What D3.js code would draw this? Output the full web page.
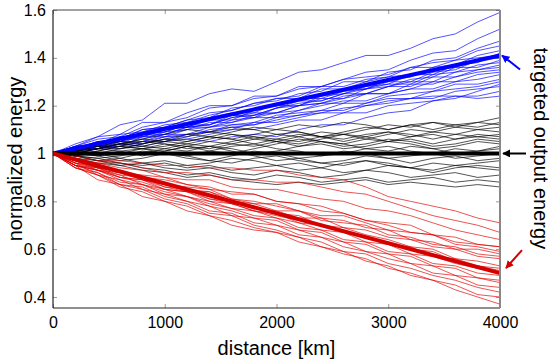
<!DOCTYPE html>
<html>
<head>
<meta charset="utf-8">
<script src="https://cdn.jsdelivr.net/npm/d3@7"></script>
<style>
  body { margin: 0; background: #fff; }
  svg text { font-family: "Liberation Sans", Arial, sans-serif; fill: #000; }
</style>
</head>
<body>
<div id="chart"></div>
<script>
// distance grid of the simulated spans (km)
var distance = [0, 200, 400, 600, 800, 1000, 1200, 1400, 1600, 1800, 2000,
                2200, 2400, 2600, 2800, 3000, 3200, 3400, 3600, 3800, 4000];

// blue runs (energy grows)
var blueRuns = [
    [1, 1.04, 1.07, 1.12, 1.14, 1.21, 1.21, 1.25, 1.27, 1.26, 1.30, 1.34, 1.35, 1.38, 1.41, 1.41, 1.44, 1.48, 1.50, 1.55, 1.59],
    [1, 1.03, 1.07, 1.08, 1.13, 1.13, 1.17, 1.20, 1.20, 1.24, 1.24, 1.28, 1.28, 1.31, 1.34, 1.35, 1.39, 1.42, 1.43, 1.48, 1.52],
    [1, 1.03, 1.04, 1.08, 1.09, 1.12, 1.13, 1.16, 1.18, 1.21, 1.22, 1.25, 1.26, 1.30, 1.30, 1.34, 1.35, 1.39, 1.40, 1.44, 1.47],
    [1, 1.02, 1.05, 1.06, 1.10, 1.11, 1.14, 1.15, 1.19, 1.20, 1.23, 1.24, 1.28, 1.28, 1.31, 1.32, 1.36, 1.38, 1.39, 1.43, 1.45],
    [1, 1.03, 1.04, 1.07, 1.08, 1.11, 1.11, 1.15, 1.16, 1.19, 1.20, 1.23, 1.24, 1.27, 1.27, 1.31, 1.32, 1.36, 1.37, 1.41, 1.43],
    [1, 1.01, 1.04, 1.05, 1.08, 1.09, 1.12, 1.14, 1.14, 1.18, 1.20, 1.20, 1.24, 1.25, 1.28, 1.29, 1.33, 1.33, 1.37, 1.38, 1.42],
    [1, 1.02, 1.05, 1.05, 1.09, 1.11, 1.11, 1.15, 1.17, 1.17, 1.21, 1.23, 1.23, 1.26, 1.27, 1.30, 1.30, 1.34, 1.35, 1.39, 1.40],
    [1, 1.03, 1.03, 1.07, 1.07, 1.10, 1.11, 1.12, 1.15, 1.16, 1.19, 1.21, 1.22, 1.25, 1.27, 1.28, 1.31, 1.32, 1.36, 1.36, 1.39],
    [1, 1.01, 1.04, 1.04, 1.08, 1.09, 1.12, 1.12, 1.16, 1.16, 1.19, 1.20, 1.23, 1.23, 1.27, 1.29, 1.29, 1.33, 1.34, 1.37, 1.38],
    [1, 1.02, 1.02, 1.06, 1.07, 1.10, 1.11, 1.14, 1.16, 1.15, 1.19, 1.22, 1.22, 1.25, 1.25, 1.28, 1.30, 1.30, 1.34, 1.35, 1.37],
    [1, 1.01, 1.04, 1.05, 1.08, 1.08, 1.11, 1.12, 1.15, 1.17, 1.17, 1.20, 1.21, 1.24, 1.25, 1.28, 1.28, 1.32, 1.32, 1.35, 1.36],
    [1, 1.02, 1.03, 1.06, 1.06, 1.09, 1.10, 1.13, 1.13, 1.16, 1.17, 1.20, 1.21, 1.23, 1.25, 1.25, 1.29, 1.29, 1.32, 1.34, 1.35],
    [1, 1.01, 1.03, 1.03, 1.07, 1.08, 1.11, 1.11, 1.14, 1.15, 1.17, 1.18, 1.21, 1.21, 1.25, 1.25, 1.27, 1.30, 1.30, 1.33, 1.34],
    [1, 1.02, 1.02, 1.05, 1.07, 1.07, 1.10, 1.11, 1.13, 1.15, 1.15, 1.18, 1.20, 1.22, 1.22, 1.25, 1.27, 1.27, 1.30, 1.31, 1.33],
    [1, 1.01, 1.03, 1.05, 1.05, 1.08, 1.08, 1.11, 1.12, 1.13, 1.16, 1.17, 1.18, 1.21, 1.21, 1.24, 1.25, 1.26, 1.29, 1.29, 1.31],
    [1, 1.00, 1.02, 1.04, 1.04, 1.07, 1.08, 1.09, 1.12, 1.12, 1.15, 1.16, 1.18, 1.18, 1.21, 1.23, 1.23, 1.26, 1.27, 1.28, 1.30],
    [1, 1.01, 1.03, 1.03, 1.05, 1.05, 1.08, 1.09, 1.10, 1.13, 1.13, 1.15, 1.17, 1.17, 1.20, 1.21, 1.23, 1.23, 1.26, 1.27, 1.28],
    [1, 1.00, 1.02, 1.02, 1.04, 1.06, 1.06, 1.08, 1.10, 1.10, 1.12, 1.14, 1.14, 1.17, 1.17, 1.20, 1.21, 1.22, 1.24, 1.24, 1.26],
    [1, 1.02, 1.02, 1.04, 1.05, 1.07, 1.07, 1.10, 1.11, 1.12, 1.14, 1.16, 1.17, 1.19, 1.20, 1.22, 1.23, 1.24, 1.24, 1.23, 1.24],
    [1, 1.02, 1.05, 1.06, 1.10, 1.11, 1.14, 1.17, 1.18, 1.21, 1.23, 1.23, 1.27, 1.27, 1.30, 1.32, 1.33, 1.35, 1.36, 1.39, 1.41],
    [1, 1.01, 1.02, 1.04, 1.03, 1.05, 1.06, 1.05, 1.07, 1.08, 1.07, 1.10, 1.12, 1.12, 1.15, 1.17, 1.18, 1.22, 1.23, 1.26, 1.29],
    [1, 1.03, 1.06, 1.07, 1.11, 1.13, 1.15, 1.19, 1.20, 1.23, 1.24, 1.27, 1.28, 1.31, 1.32, 1.33, 1.36, 1.36, 1.39, 1.40, 1.41]
];

// black runs (energy stays near target)
var blackRuns = [
    [1, 1.02, 1.03, 1.05, 1.04, 1.06, 1.08, 1.07, 1.09, 1.11, 1.10, 1.12, 1.11, 1.13, 1.12, 1.10, 1.12, 1.13, 1.11, 1.13, 1.15],
    [1, 1.01, 1.03, 1.02, 1.04, 1.06, 1.05, 1.07, 1.06, 1.08, 1.10, 1.09, 1.07, 1.09, 1.11, 1.10, 1.12, 1.10, 1.12, 1.13, 1.12],
    [1, 1.00, 1.02, 1.04, 1.03, 1.02, 1.04, 1.06, 1.08, 1.07, 1.05, 1.07, 1.09, 1.08, 1.06, 1.08, 1.10, 1.09, 1.11, 1.10, 1.11],
    [1, 1.01, 1.00, 1.02, 1.03, 1.05, 1.04, 1.03, 1.05, 1.07, 1.06, 1.08, 1.07, 1.05, 1.07, 1.09, 1.08, 1.06, 1.08, 1.10, 1.09],
    [1, 0.99, 1.01, 1.03, 1.02, 1.01, 1.03, 1.05, 1.04, 1.06, 1.08, 1.07, 1.05, 1.04, 1.06, 1.05, 1.07, 1.09, 1.08, 1.07, 1.08],
    [1, 1.01, 1.02, 1.01, 0.99, 1.01, 1.03, 1.02, 1.04, 1.03, 1.05, 1.04, 1.06, 1.08, 1.07, 1.05, 1.06, 1.04, 1.06, 1.07, 1.06],
    [1, 1.00, 0.99, 1.01, 1.02, 1.04, 1.03, 1.01, 1.00, 1.02, 1.04, 1.06, 1.05, 1.03, 1.04, 1.06, 1.05, 1.03, 1.04, 1.06, 1.05],
    [1, 1.01, 1.03, 1.04, 1.06, 1.05, 1.07, 1.09, 1.08, 1.06, 1.05, 1.03, 1.04, 1.02, 1.03, 1.05, 1.04, 1.02, 1.03, 1.05, 1.04],
    [1, 0.99, 1.00, 0.98, 1.00, 1.02, 1.01, 1.03, 1.02, 1.00, 1.01, 1.03, 1.05, 1.04, 1.02, 1.01, 1.03, 1.02, 1.00, 1.01, 1.03],
    [1, 1.00, 1.01, 1.03, 1.02, 1.00, 0.99, 1.01, 1.03, 1.04, 1.02, 1.01, 0.99, 1.00, 1.02, 1.03, 1.01, 1.00, 1.02, 1.01, 1.02],
    [1, 0.99, 0.98, 0.99, 1.01, 1.00, 0.98, 0.97, 0.99, 1.01, 1.00, 0.98, 0.99, 1.01, 1.00, 0.98, 0.99, 1.00, 0.98, 0.99, 1.00],
    [1, 1.00, 0.99, 0.97, 0.98, 1.00, 0.99, 0.97, 0.96, 0.98, 0.99, 0.97, 0.96, 0.97, 0.99, 0.98, 0.96, 0.98, 0.99, 0.97, 0.98],
    [1, 0.99, 0.97, 0.98, 0.96, 0.97, 0.95, 0.96, 0.98, 0.97, 0.95, 0.96, 0.94, 0.96, 0.97, 0.95, 0.94, 0.96, 0.95, 0.96, 0.97],
    [1, 0.99, 0.98, 0.96, 0.95, 0.96, 0.94, 0.95, 0.93, 0.94, 0.95, 0.93, 0.94, 0.92, 0.93, 0.95, 0.94, 0.92, 0.94, 0.95, 0.94],
    [1, 0.98, 0.97, 0.95, 0.96, 0.94, 0.93, 0.94, 0.92, 0.91, 0.93, 0.92, 0.90, 0.91, 0.93, 0.92, 0.90, 0.91, 0.92, 0.90, 0.91],
    [1, 0.99, 0.97, 0.96, 0.94, 0.93, 0.91, 0.92, 0.90, 0.89, 0.91, 0.90, 0.88, 0.89, 0.90, 0.88, 0.89, 0.90, 0.88, 0.89, 0.88],
    [1, 0.98, 0.96, 0.95, 0.93, 0.92, 0.90, 0.91, 0.89, 0.88, 0.87, 0.88, 0.87, 0.88, 0.89, 0.87, 0.88, 0.87, 0.86, 0.87, 0.86],
    [1, 1.01, 1.02, 1.04, 1.06, 1.08, 1.10, 1.09, 1.11, 1.10, 1.08, 1.09, 1.07, 1.08, 1.10, 1.12, 1.11, 1.13, 1.12, 1.11, 1.13],
    [1, 1.00, 1.02, 1.03, 1.05, 1.04, 1.02, 1.03, 1.01, 0.99, 0.97, 0.98, 0.96, 0.95, 0.97, 0.96, 0.94, 0.93, 0.95, 0.94, 0.93],
    [1, 1.01, 0.99, 1.00, 1.02, 1.03, 1.05, 1.07, 1.06, 1.04, 1.06, 1.05, 1.07, 1.06, 1.08, 1.09, 1.07, 1.08, 1.06, 1.08, 1.07]
];

// red runs (energy decays)
var redRuns = [
    [1, 0.99, 0.97, 0.97, 0.96, 0.95, 0.95, 0.94, 0.94, 0.93, 0.93, 0.91, 0.90, 0.89, 0.86, 0.82, 0.80, 0.78, 0.76, 0.73, 0.71],
    [1, 0.98, 0.96, 0.96, 0.94, 0.92, 0.92, 0.91, 0.89, 0.89, 0.88, 0.88, 0.86, 0.84, 0.83, 0.80, 0.77, 0.74, 0.72, 0.70, 0.67],
    [1, 0.97, 0.96, 0.94, 0.93, 0.90, 0.89, 0.89, 0.86, 0.85, 0.85, 0.83, 0.81, 0.80, 0.77, 0.76, 0.74, 0.71, 0.68, 0.66, 0.64],
    [1, 0.96, 0.95, 0.92, 0.91, 0.90, 0.87, 0.85, 0.84, 0.83, 0.80, 0.79, 0.78, 0.75, 0.72, 0.71, 0.70, 0.66, 0.65, 0.62, 0.61],
    [1, 0.97, 0.94, 0.93, 0.90, 0.87, 0.86, 0.85, 0.81, 0.79, 0.79, 0.76, 0.74, 0.74, 0.71, 0.68, 0.67, 0.66, 0.62, 0.61, 0.59],
    [1, 0.96, 0.94, 0.91, 0.90, 0.86, 0.84, 0.84, 0.80, 0.79, 0.76, 0.76, 0.72, 0.71, 0.70, 0.66, 0.65, 0.62, 0.61, 0.58, 0.57],
    [1, 0.95, 0.93, 0.90, 0.89, 0.86, 0.85, 0.81, 0.80, 0.77, 0.76, 0.73, 0.73, 0.69, 0.68, 0.65, 0.64, 0.61, 0.60, 0.57, 0.56],
    [1, 0.97, 0.94, 0.92, 0.89, 0.88, 0.84, 0.83, 0.79, 0.78, 0.75, 0.74, 0.70, 0.69, 0.66, 0.64, 0.61, 0.60, 0.56, 0.55, 0.53],
    [1, 0.95, 0.94, 0.90, 0.89, 0.85, 0.84, 0.81, 0.79, 0.76, 0.75, 0.71, 0.70, 0.67, 0.65, 0.62, 0.61, 0.57, 0.56, 0.53, 0.52],
    [1, 0.96, 0.93, 0.91, 0.87, 0.85, 0.82, 0.80, 0.77, 0.76, 0.73, 0.71, 0.68, 0.67, 0.63, 0.62, 0.58, 0.57, 0.54, 0.52, 0.50],
    [1, 0.95, 0.93, 0.89, 0.87, 0.84, 0.82, 0.79, 0.77, 0.74, 0.73, 0.69, 0.68, 0.64, 0.63, 0.59, 0.58, 0.54, 0.53, 0.50, 0.49],
    [1, 0.94, 0.92, 0.88, 0.87, 0.83, 0.82, 0.78, 0.76, 0.73, 0.72, 0.68, 0.67, 0.63, 0.62, 0.58, 0.57, 0.53, 0.52, 0.48, 0.47],
    [1, 0.96, 0.91, 0.89, 0.85, 0.83, 0.80, 0.78, 0.74, 0.73, 0.70, 0.68, 0.65, 0.63, 0.59, 0.58, 0.54, 0.53, 0.49, 0.48, 0.46],
    [1, 0.94, 0.91, 0.87, 0.86, 0.82, 0.80, 0.76, 0.75, 0.71, 0.70, 0.66, 0.65, 0.61, 0.59, 0.56, 0.54, 0.50, 0.49, 0.45, 0.44],
    [1, 0.95, 0.92, 0.87, 0.85, 0.81, 0.79, 0.75, 0.74, 0.70, 0.68, 0.65, 0.63, 0.59, 0.58, 0.54, 0.52, 0.49, 0.47, 0.44, 0.42],
    [1, 0.94, 0.91, 0.86, 0.84, 0.80, 0.78, 0.74, 0.72, 0.69, 0.67, 0.63, 0.61, 0.58, 0.56, 0.52, 0.50, 0.47, 0.45, 0.41, 0.40],
    [1, 0.95, 0.89, 0.87, 0.82, 0.80, 0.76, 0.74, 0.70, 0.68, 0.67, 0.65, 0.61, 0.59, 0.55, 0.53, 0.49, 0.47, 0.43, 0.40, 0.37],
    [1, 0.97, 0.93, 0.92, 0.89, 0.87, 0.85, 0.84, 0.81, 0.80, 0.78, 0.76, 0.73, 0.72, 0.69, 0.68, 0.64, 0.63, 0.60, 0.60, 0.58],
    [1, 0.95, 0.93, 0.90, 0.88, 0.85, 0.84, 0.80, 0.79, 0.76, 0.74, 0.72, 0.70, 0.68, 0.65, 0.63, 0.60, 0.59, 0.55, 0.53, 0.51],
    [1, 0.97, 0.94, 0.93, 0.90, 0.89, 0.87, 0.86, 0.83, 0.83, 0.80, 0.79, 0.76, 0.75, 0.72, 0.70, 0.67, 0.66, 0.63, 0.62, 0.61]
];

// thick target trends
var trendDistance = [0, 4000];
var trendBlue = [1, 1.41];
var trendBlack = [1, 1];
var trendRed = [1, 0.5];

var xTicks = [0, 1000, 2000, 3000, 4000];
var yTicks = [0.4, 0.6, 0.8, 1, 1.2, 1.4, 1.6];

var margin = { top: 10, right: 53, bottom: 53, left: 53 },
    width = 553 - margin.left - margin.right,
    height = 361 - margin.top - margin.bottom;

var svg = d3.select("#chart")
    .append("svg")
    .attr("width", 553)
    .attr("height", 361)
    .append("g")
    .attr("transform", "translate(" + margin.left + "," + margin.top + ")");

var x = d3.scaleLinear().domain([0, 4000]).range([0, width]);
var y = d3.scaleLinear().domain([0.354, 1.6]).range([height, 0]);

// inward grey ticks on all four sides
function styleAxis(g) {
    g.select(".domain").remove();
    g.selectAll(".tick line").attr("stroke", "#999");
    g.selectAll(".tick text").style("font-size", "16px");
}
svg.append("g")
    .attr("transform", "translate(0," + height + ")")
    .call(d3.axisBottom(x).tickValues(xTicks).tickSize(-4).tickPadding(9).tickFormat(d3.format("d")))
    .call(styleAxis);
svg.append("g")
    .call(d3.axisLeft(y).tickValues(yTicks).tickSize(-4).tickPadding(7).tickFormat(d3.format("")))
    .call(styleAxis);
svg.append("g")
    .call(d3.axisTop(x).tickValues(xTicks).tickSize(-4).tickFormat(""))
    .call(styleAxis);
svg.append("g")
    .attr("transform", "translate(" + width + ",0)")
    .call(d3.axisRight(y).tickValues(yTicks).tickSize(-4).tickFormat(""))
    .call(styleAxis);

var line = d3.line()
    .x(function (d, i) { return x(distance[i]); })
    .y(function (d) { return y(d); });

var trendLine = d3.line()
    .x(function (d, i) { return x(trendDistance[i]); })
    .y(function (d) { return y(d); });

function drawRuns(runs, color) {
    svg.append("g").selectAll("path")
        .data(runs)
        .enter()
        .append("path")
        .attr("d", line)
        .attr("fill", "none")
        .attr("stroke", color)
        .attr("stroke-width", 0.9)
        .attr("stroke-opacity", 0.75);
}
drawRuns(blueRuns, "#0000ff");
drawRuns(blackRuns, "#000000");
drawRuns(redRuns, "#e00000");

[[trendBlue, "#0000ff"], [trendBlack, "#000000"], [trendRed, "#d40000"]].forEach(function (t) {
    svg.append("path")
        .attr("d", trendLine(t[0]))
        .attr("fill", "none")
        .attr("stroke", t[1])
        .attr("stroke-width", 4);
});

// box: black left/bottom, grey top/right
svg.append("line").attr("x1", 0).attr("x2", 0).attr("y1", 0).attr("y2", height)
    .attr("stroke", "#222").attr("stroke-width", 1.2);
svg.append("line").attr("x1", 0).attr("x2", width).attr("y1", height).attr("y2", height)
    .attr("stroke", "#222").attr("stroke-width", 1.2);
svg.append("line").attr("x1", 0).attr("x2", width).attr("y1", 0).attr("y2", 0)
    .attr("stroke", "#444").attr("stroke-width", 1);
svg.append("line").attr("x1", width).attr("x2", width).attr("y1", 0).attr("y2", height)
    .attr("stroke", "#888").attr("stroke-width", 2);

// axis labels
svg.append("text")
    .attr("x", width / 2)
    .attr("y", height + 47)
    .attr("text-anchor", "middle")
    .style("font-size", "20px")
    .text("distance [km]");
svg.append("text")
    .attr("transform", "translate(-31," + (height / 2) + ") rotate(-90)")
    .attr("text-anchor", "middle")
    .style("font-size", "20px")
    .text("normalized energy");
svg.append("text")
    .attr("transform", "translate(" + (width + 34) + "," + (y(1) - 5) + ") rotate(90)")
    .attr("text-anchor", "middle")
    .style("font-size", "20px")
    .text("targeted output energy");

// arrows pointing at the target levels
var defs = svg.append("defs");
[["blue", "#0000ff"], ["black", "#000000"], ["red", "#d40000"]].forEach(function (m) {
    defs.append("marker")
        .attr("id", "head-" + m[0])
        .attr("viewBox", "0 0 10 10")
        .attr("refX", 9).attr("refY", 5)
        .attr("markerWidth", 4).attr("markerHeight", 4)
        .attr("orient", "auto")
        .append("path")
        .attr("d", "M0,0L10,5L0,10z")
        .attr("fill", m[1]);
});
var arrows = [
    { v: 1.41, dx: 18, dy: 14, name: "blue", color: "#0000ff", tx: 2, ty: 0 },
    { v: 1, dx: 23, dy: 0, name: "black", color: "#000000", tx: 3, ty: 0 },
    { v: 0.5, dx: 16, dy: -18, name: "red", color: "#d40000", tx: 6, ty: -5 }
];
arrows.forEach(function (a) {
    var tipX = x(4000) + a.tx, tipY = y(a.v) + a.ty;
    svg.append("line")
        .attr("x1", tipX + a.dx).attr("y1", tipY + a.dy)
        .attr("x2", tipX).attr("y2", tipY)
        .attr("stroke", a.color)
        .attr("stroke-width", 2)
        .attr("marker-end", "url(#head-" + a.name + ")");
});
</script>
</body>
</html>
